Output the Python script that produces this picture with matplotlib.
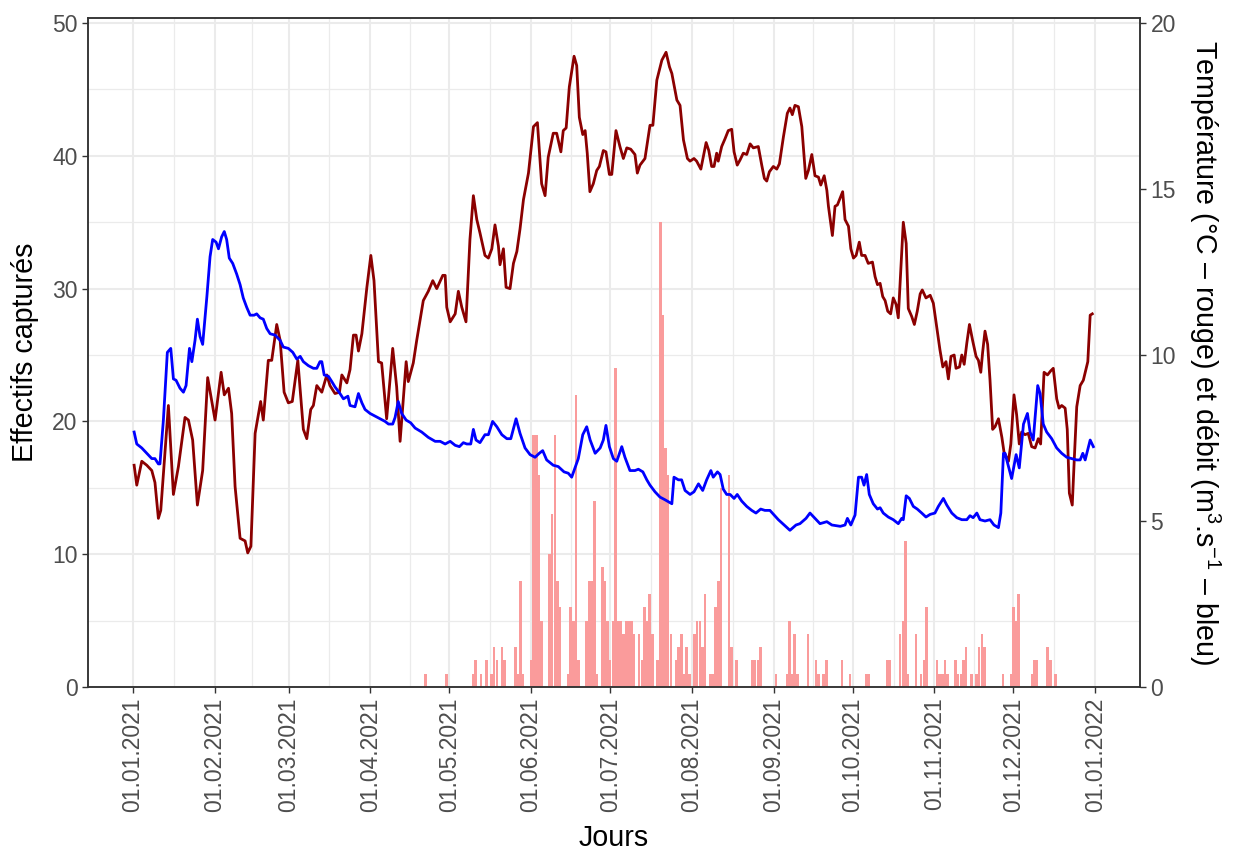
import matplotlib
matplotlib.use("Agg")
import matplotlib.pyplot as plt
import numpy as np

plt.rcParams['font.family'] = ['Liberation Sans', 'DejaVu Sans']
plt.rcParams['mathtext.fontset'] = 'custom'
plt.rcParams['mathtext.rm'] = 'Liberation Sans'
plt.rcParams['mathtext.it'] = 'Liberation Sans:italic'
plt.rcParams['mathtext.bf'] = 'Liberation Sans:bold'

# days counted from 01.01.2021
month_days = [0, 31, 59, 90, 120, 151, 181, 212, 243, 273, 304, 334, 365]
month_labels = ["01.01.2021", "01.02.2021", "01.03.2021", "01.04.2021", "01.05.2021",
                "01.06.2021", "01.07.2021", "01.08.2021", "01.09.2021", "01.10.2021",
                "01.11.2021", "01.12.2021", "01.01.2022"]

# catches per day (effectifs capturés)
bar_days = [111, 119, 129, 130, 132, 134, 136, 137, 138, 140, 141, 145, 146, 147, 148,
            151, 152, 153, 154, 155, 158, 159, 160, 161, 162, 165, 166, 167, 168, 169,
            172, 173, 174, 175, 176, 178, 179, 180, 181, 182, 183, 184, 185, 186, 187,
            188, 189, 190, 192, 193, 194, 195, 196, 197, 199, 200, 201, 202, 203, 204,
            206, 207, 208, 209, 210, 211, 213, 214, 215, 216, 217, 219, 220, 221, 222,
            223, 226, 227, 229, 235, 236, 237, 238, 244, 248, 249, 250, 251, 252, 256,
            259, 260, 262, 263, 269, 272, 278, 279, 286, 287, 291, 292, 293, 294, 297,
            299, 300, 301, 305, 306, 307, 308, 309, 312, 313, 314, 315, 316, 318, 320,
            321, 322, 323, 330, 333, 334, 335, 336, 341, 342, 343, 347, 348, 350]
bar_counts = [1, 1, 1, 2, 1, 2, 1, 3, 2, 3, 2, 3, 1, 8, 1,
              2, 19, 19, 16, 5, 10, 13, 19, 8, 6, 1, 6, 5, 22, 2,
              5, 8, 8, 14, 1, 9, 8, 5, 2, 5, 24, 5, 5, 4, 5,
              5, 5, 4, 4, 2, 6, 5, 7, 4, 2, 35, 28, 18, 16, 4,
              2, 3, 4, 1, 3, 1, 4, 5, 5, 3, 7, 1, 1, 6, 8,
              15, 16, 3, 2, 2, 2, 2, 3, 1, 1, 5, 1, 4, 1, 4,
              2, 1, 1, 2, 2, 1, 1, 1, 2, 2, 4, 5, 11, 1, 4,
              1, 2, 6, 2, 1, 1, 2, 1, 2, 1, 1, 2, 3, 1, 1,
              3, 4, 3, 1, 1, 6, 5, 7, 1, 2, 2, 3, 2, 1]

# water temperature (°C)
temp_days = [0.4, 1.4, 3.3, 5.2, 7.1, 8.3, 9.6, 10.5, 13.4, 15.3, 17.2, 19.7, 21.0, 22.6,
             24.4, 26.4, 28.3, 31.1, 33.4, 34.6, 36.2, 37.4, 38.7, 40.6, 42.5, 43.5, 44.7,
             46.3, 48.4, 49.4, 51.3, 52.6, 54.5, 55.8, 57.3, 58.9, 60.4, 62.5, 64.6, 65.9,
             67.4, 68.4, 69.7, 71.6, 73.5, 74.7, 76.6, 78.3, 79.2, 81.1, 82.3, 83.6, 84.6,
             85.5, 86.8, 88.7, 90.2, 91.4, 93.1, 94.3, 96.2, 98.5, 100.0, 101.3, 103.6,
             104.4, 106.3, 107.6, 110.1, 112.0, 113.7, 115.2, 117.5, 118.4, 119.0, 120.3,
             122.2, 123.4, 124.7, 126.3, 127.8, 129.1, 130.4, 131.6, 133.5, 134.8, 136.1,
             137.3, 138.6, 139.2, 140.5, 141.5, 143.0, 144.3, 145.6, 146.8, 148.1, 150.0,
             151.9, 153.4, 155.0, 156.3, 157.5, 159.4, 160.7, 162.3, 163.2, 164.3, 165.5,
             167.3, 168.3, 169.3, 170.6, 171.5, 172.3, 173.3, 174.6, 175.9, 176.9, 178.4,
             179.4, 180.7, 181.6, 183.2, 184.7, 186.0, 187.3, 188.8, 190.4, 191.3, 192.3,
             194.2, 196.1, 197.2, 198.7, 200.6, 202.2, 203.5, 204.4, 206.3, 207.5, 208.8,
             210.3, 211.3, 212.8, 213.8, 215.4, 217.4, 218.4, 219.5, 220.4, 221.4, 222.0,
             223.3, 224.6, 225.8, 227.1, 228.0, 229.2, 230.3, 231.5, 232.8, 234.1, 235.3,
             237.2, 238.5, 239.5, 240.4, 241.4, 242.9, 244.2, 245.2, 246.7, 248.2, 249.2,
             250.1, 251.1, 252.4, 253.7, 255.2, 256.2, 257.5, 258.7, 260.0, 260.9, 262.2,
             263.2, 263.8, 265.3, 266.3, 267.2, 269.2, 270.1, 271.4, 272.3, 273.3, 274.3,
             275.5, 276.4, 277.7, 278.9, 280.5, 281.5, 282.4, 283.4, 284.4, 285.3, 286.3,
             287.4, 288.4, 289.5, 290.3, 291.4, 292.2, 293.3, 294.1, 295.4, 296.4, 297.5,
             298.6, 299.4, 300.8, 302.4, 303.6, 304.9, 306.1, 307.2, 308.4, 309.3, 310.3,
             311.5, 312.2, 313.5, 314.4, 315.3, 316.3, 317.3, 318.5, 319.8, 320.7, 321.6,
             322.3, 323.2, 324.2, 325.1, 326.1, 327.0, 328.3, 329.6, 330.4, 332.1, 333.0,
             334.2, 335.2, 336.2, 337.1, 338.4, 339.6, 340.9, 342.2, 343.4, 344.3, 345.6,
             346.9, 348.1, 349.1, 350.4, 351.3, 352.3, 353.6, 354.4, 355.2, 356.3, 357.1,
             358.0, 359.3, 360.5, 362.2, 363.1, 363.9]
temp_vals = [6.68, 6.08, 6.80, 6.68, 6.52, 6.16, 5.08, 5.32, 8.48, 5.80, 6.64, 8.12, 8.04, 7.44,
             5.48, 6.52, 9.32, 8.04, 9.48, 8.80, 9.00, 8.24, 6.04, 4.48, 4.40, 4.04, 4.24,
             7.64, 8.60, 8.04, 9.84, 9.84, 10.92, 10.44, 8.88, 8.56, 8.60, 9.84, 7.76, 7.48,
             8.36, 8.48, 9.08, 8.88, 9.40, 9.08, 8.84, 8.88, 9.40, 9.16, 9.56, 10.60, 10.60,
             10.12, 10.64, 12.04, 13.00, 12.24, 9.80, 9.76, 8.08, 10.20, 9.04, 7.40, 9.80,
             9.20, 9.76, 10.44, 11.64, 11.92, 12.24, 12.00, 12.40, 12.40, 11.44, 11.00,
             11.24, 11.92, 11.44, 11.00, 13.48, 14.80, 14.08, 13.68, 13.00, 12.92, 13.20,
             13.92, 13.28, 12.72, 13.20, 12.04, 12.00, 12.76, 13.12, 13.80, 14.68, 15.48,
             16.88, 17.00, 15.16, 14.80, 15.96, 16.68, 16.68, 16.12, 16.76, 16.84, 18.08,
             19.00, 18.72, 17.16, 16.64, 16.76, 16.08, 14.92, 15.16, 15.56, 15.68, 16.16,
             16.12, 15.44, 15.44, 16.76, 16.28, 15.92, 16.24, 16.20, 16.04, 15.48, 15.72,
             15.92, 16.92, 16.92, 18.28, 18.88, 19.12, 18.68, 18.48, 17.68, 17.52, 16.48,
             15.92, 15.84, 15.92, 15.84, 15.60, 16.40, 16.16, 15.68, 15.68, 16.08, 15.84,
             16.28, 16.52, 16.76, 16.80, 16.12, 15.72, 15.88, 16.08, 16.04, 16.36, 16.24,
             16.28, 15.72, 15.32, 15.24, 15.52, 15.68, 15.60, 15.76, 16.56, 17.28, 17.44,
             17.24, 17.52, 17.48, 16.88, 15.32, 15.56, 16.04, 15.40, 15.36, 15.12, 15.40,
             14.96, 14.48, 13.60, 14.48, 14.52, 14.92, 14.08, 13.88, 13.20, 12.92, 13.00,
             13.40, 13.00, 13.00, 12.76, 12.80, 12.36, 12.12, 12.16, 11.76, 11.64, 11.32,
             11.24, 11.72, 11.52, 11.12, 12.76, 14.00, 13.36, 11.40, 11.16, 10.92, 11.32,
             11.84, 11.96, 11.72, 11.80, 11.56, 10.84, 10.16, 9.64, 9.80, 9.28, 9.96,
             10.00, 9.60, 9.64, 10.00, 9.72, 10.36, 10.92, 10.44, 9.96, 9.84, 9.48,
             10.08, 10.72, 10.32, 9.24, 7.76, 7.84, 8.08, 7.52, 7.08, 6.80, 7.32,
             8.80, 8.20, 7.32, 7.68, 7.60, 7.64, 7.24, 7.20, 7.48, 7.32, 9.48,
             9.40, 9.52, 9.60, 8.68, 8.40, 8.48, 8.40, 7.76, 5.84, 5.48, 6.92,
             8.44, 9.08, 9.24, 9.80, 11.20, 11.24]

# river flow (m3/s)
flow_days = [0.4, 1.4, 3.3, 5.2, 7.1, 8.3, 9.6, 10.2, 11.5, 13.0, 14.3, 15.3, 16.3, 17.8,
             19.1, 20.1, 21.4, 22.3, 23.5, 24.4, 25.4, 26.4, 28.0, 29.2, 30.2, 31.5, 32.4,
             33.6, 34.6, 35.5, 36.5, 37.8, 39.3, 40.6, 41.8, 43.1, 44.4, 45.9, 46.9, 48.2,
             49.4, 50.7, 52.0, 53.9, 55.8, 57.0, 58.9, 60.6, 62.1, 63.4, 64.6, 66.5, 68.4,
             69.7, 70.9, 71.6, 72.5, 74.1, 75.4, 76.6, 78.5, 79.8, 81.5, 82.3, 84.2, 85.5,
             86.8, 88.0, 89.9, 91.8, 93.7, 95.6, 96.9, 98.5, 99.4, 100.6, 101.9, 103.6,
             105.3, 107.0, 109.5, 112.0, 114.6, 116.5, 118.4, 120.3, 122.2, 123.8, 125.3,
             126.6, 128.1, 129.1, 130.1, 131.6, 133.5, 134.8, 136.4, 138.0, 139.9, 141.8,
             143.3, 145.3, 146.8, 148.7, 150.6, 152.5, 154.1, 155.4, 156.9, 159.4, 161.3,
             163.5, 165.1, 166.4, 167.3, 168.9, 170.6, 172.1, 173.4, 175.3, 177.2, 178.4,
             179.4, 180.7, 182.2, 183.5, 185.4, 186.6, 188.5, 190.4, 191.7, 193.4, 194.9,
             196.1, 198.0, 199.9, 201.8, 204.4, 205.2, 206.9, 208.1, 209.4, 211.3, 212.8,
             214.5, 216.1, 217.6, 219.2, 220.1, 221.7, 222.7, 223.9, 225.2, 226.5, 228.0,
             229.2, 230.9, 232.8, 234.7, 236.3, 238.1, 239.7, 241.6, 243.2, 244.8, 247.0,
             249.2, 251.5, 253.0, 255.3, 256.8, 258.7, 260.6, 263.2, 265.1, 268.3, 270.1,
             271.0, 272.3, 273.9, 275.2, 276.4, 277.3, 278.3, 279.3, 280.8, 282.4, 283.4,
             284.6, 286.5, 288.4, 290.3, 291.6, 292.2, 293.3, 294.5, 296.0, 297.5, 299.2,
             300.8, 302.4, 304.2, 305.5, 307.4, 308.7, 310.6, 312.5, 314.4, 316.3, 317.5,
             318.7, 320.1, 321.3, 323.2, 325.1, 326.6, 328.3, 329.2, 330.2, 330.8, 332.1,
             333.3, 335.0, 336.2, 337.8, 339.3, 340.3, 341.5, 343.2, 344.1, 345.3, 346.6,
             348.5, 350.4, 352.3, 354.2, 356.1, 358.0, 359.3, 360.3, 361.2, 363.1, 364.3]
flow_vals = [7.68, 7.32, 7.20, 7.04, 6.88, 6.88, 6.72, 6.72, 8.04, 10.08, 10.20, 9.28, 9.24, 9.00,
             8.88, 9.08, 10.20, 9.80, 10.44, 11.08, 10.56, 10.32, 11.76, 12.96, 13.48, 13.40, 13.20,
             13.56, 13.72, 13.48, 12.92, 12.76, 12.44, 12.12, 11.72, 11.44, 11.20, 11.20, 11.24, 11.12,
             11.08, 10.80, 10.64, 10.60, 10.44, 10.24, 10.20, 10.08, 9.88, 9.96, 9.80, 9.68, 9.60,
             9.60, 9.80, 9.80, 9.40, 9.36, 9.20, 9.04, 8.84, 8.68, 8.76, 8.48, 8.44, 8.84,
             8.56, 8.36, 8.24, 8.16, 8.08, 8.00, 7.92, 7.92, 8.12, 8.60, 8.24, 8.04,
             7.96, 7.80, 7.68, 7.52, 7.40, 7.40, 7.32, 7.40, 7.28, 7.24, 7.36,
             7.32, 7.32, 7.76, 7.44, 7.36, 7.60, 7.60, 8.00, 7.84, 7.60, 7.48,
             7.48, 8.08, 7.64, 7.20, 7.00, 6.92, 7.04, 7.12, 6.84, 6.68, 6.64,
             6.48, 6.44, 6.32, 6.52, 6.88, 7.60, 7.84, 7.44, 7.04, 7.20, 7.44,
             7.88, 7.24, 6.88, 6.80, 7.24, 6.92, 6.52, 6.52, 6.56, 6.48, 6.24,
             6.08, 5.88, 5.72, 5.64, 5.52, 6.32, 6.24, 6.24, 5.92, 5.80, 5.88,
             6.12, 5.92, 6.24, 6.52, 6.32, 6.48, 6.40, 5.96, 5.80, 5.80, 5.68,
             5.80, 5.60, 5.44, 5.32, 5.24, 5.36, 5.32, 5.32, 5.18, 5.04, 4.88,
             4.72, 4.88, 4.92, 5.08, 5.24, 5.08, 4.92, 4.98, 4.88, 4.84, 4.88,
             5.08, 4.88, 5.18, 6.32, 6.32, 6.08, 6.40, 5.80, 5.52, 5.36, 5.40,
             5.24, 5.12, 5.04, 4.92, 5.08, 5.04, 5.76, 5.68, 5.44, 5.36, 5.24,
             5.12, 5.20, 5.24, 5.44, 5.68, 5.48, 5.24, 5.10, 5.04, 5.04, 5.16,
             5.10, 5.24, 5.04, 5.00, 5.04, 4.88, 4.80, 5.24, 7.04, 7.04, 6.64,
             6.28, 7.00, 6.60, 7.92, 8.24, 7.68, 7.44, 9.08, 8.84, 7.92, 7.68,
             7.48, 7.20, 7.04, 6.92, 6.88, 6.84, 6.84, 7.04, 6.84, 7.44, 7.24]

grey_txt = "#4D4D4D"
grey_line = "#333333"
grid_col = "#EBEBEB"

fig = plt.figure(figsize=(12.35, 8.55), dpi=100)
ax = fig.add_axes([88 / 1235, 1 - 687 / 855, 1052 / 1235, 669 / 855])

ax.bar(bar_days, bar_counts, width=0.95, color="#FA9B9B", linewidth=0, zorder=2)
ax.set_xlim(-17.1, 382.0)
ax.set_ylim(0, 50.38)

ax.set_yticks(np.arange(0, 51, 10))
ax.set_yticks(np.arange(5, 50, 10), minor=True)
ax.set_xticks(month_days)
ax.set_xticklabels(month_labels, rotation=90)
md = np.array(month_days, dtype=float)
ax.set_xticks((md[:-1] + md[1:]) / 2, minor=True)

ax.grid(which="major", color=grid_col, linewidth=1.5)
ax.grid(which="minor", color=grid_col, linewidth=0.9)
ax.set_axisbelow(True)
ax.tick_params(which="minor", length=0)
ax.tick_params(which="major", direction="out", length=4.5, width=1.0, color=grey_line,
               labelcolor=grey_txt, labelsize=16.5, pad=3)
for s in ax.spines.values():
    s.set_color(grey_line)
    s.set_linewidth(1.1)

ax.set_ylabel("Effectifs capturés", fontsize=20.6, color="black")
ax.yaxis.set_label_coords((25 - 88) / 1052, 0.5)
ax.yaxis.label.set_va("center")
ax.set_xlabel("Jours", fontsize=20.6, color="black")
ax.xaxis.set_label_coords(0.5, (687 - 838) / 669)
ax.xaxis.label.set_va("center")

ax2 = ax.twinx()
ax2.plot(temp_days, temp_vals, color="#8B0000", linewidth=2.0, zorder=3)
ax2.plot(flow_days, flow_vals, color="#0000FF", linewidth=2.0, zorder=3)
ax2.set_ylim(0, 50.38 * 0.4)
ax2.set_yticks([0, 5, 10, 15, 20])
ax2.tick_params(direction="out", length=4.5, width=1.0, color=grey_line,
                labelcolor=grey_txt, labelsize=16.5, pad=3)
for s in ax2.spines.values():
    s.set_color(grey_line)
    s.set_linewidth(1.1)
ax2.set_ylabel("Température (°C – rouge) et débit (m$^{3}$.s$^{-1}$ – bleu)",
               fontsize=20.6, rotation=-90, color="black")
ax2.yaxis.set_label_coords((1205 - 88) / 1052, 0.5)
ax2.yaxis.label.set_va("center")

fig.savefig("out.png", dpi=100)
